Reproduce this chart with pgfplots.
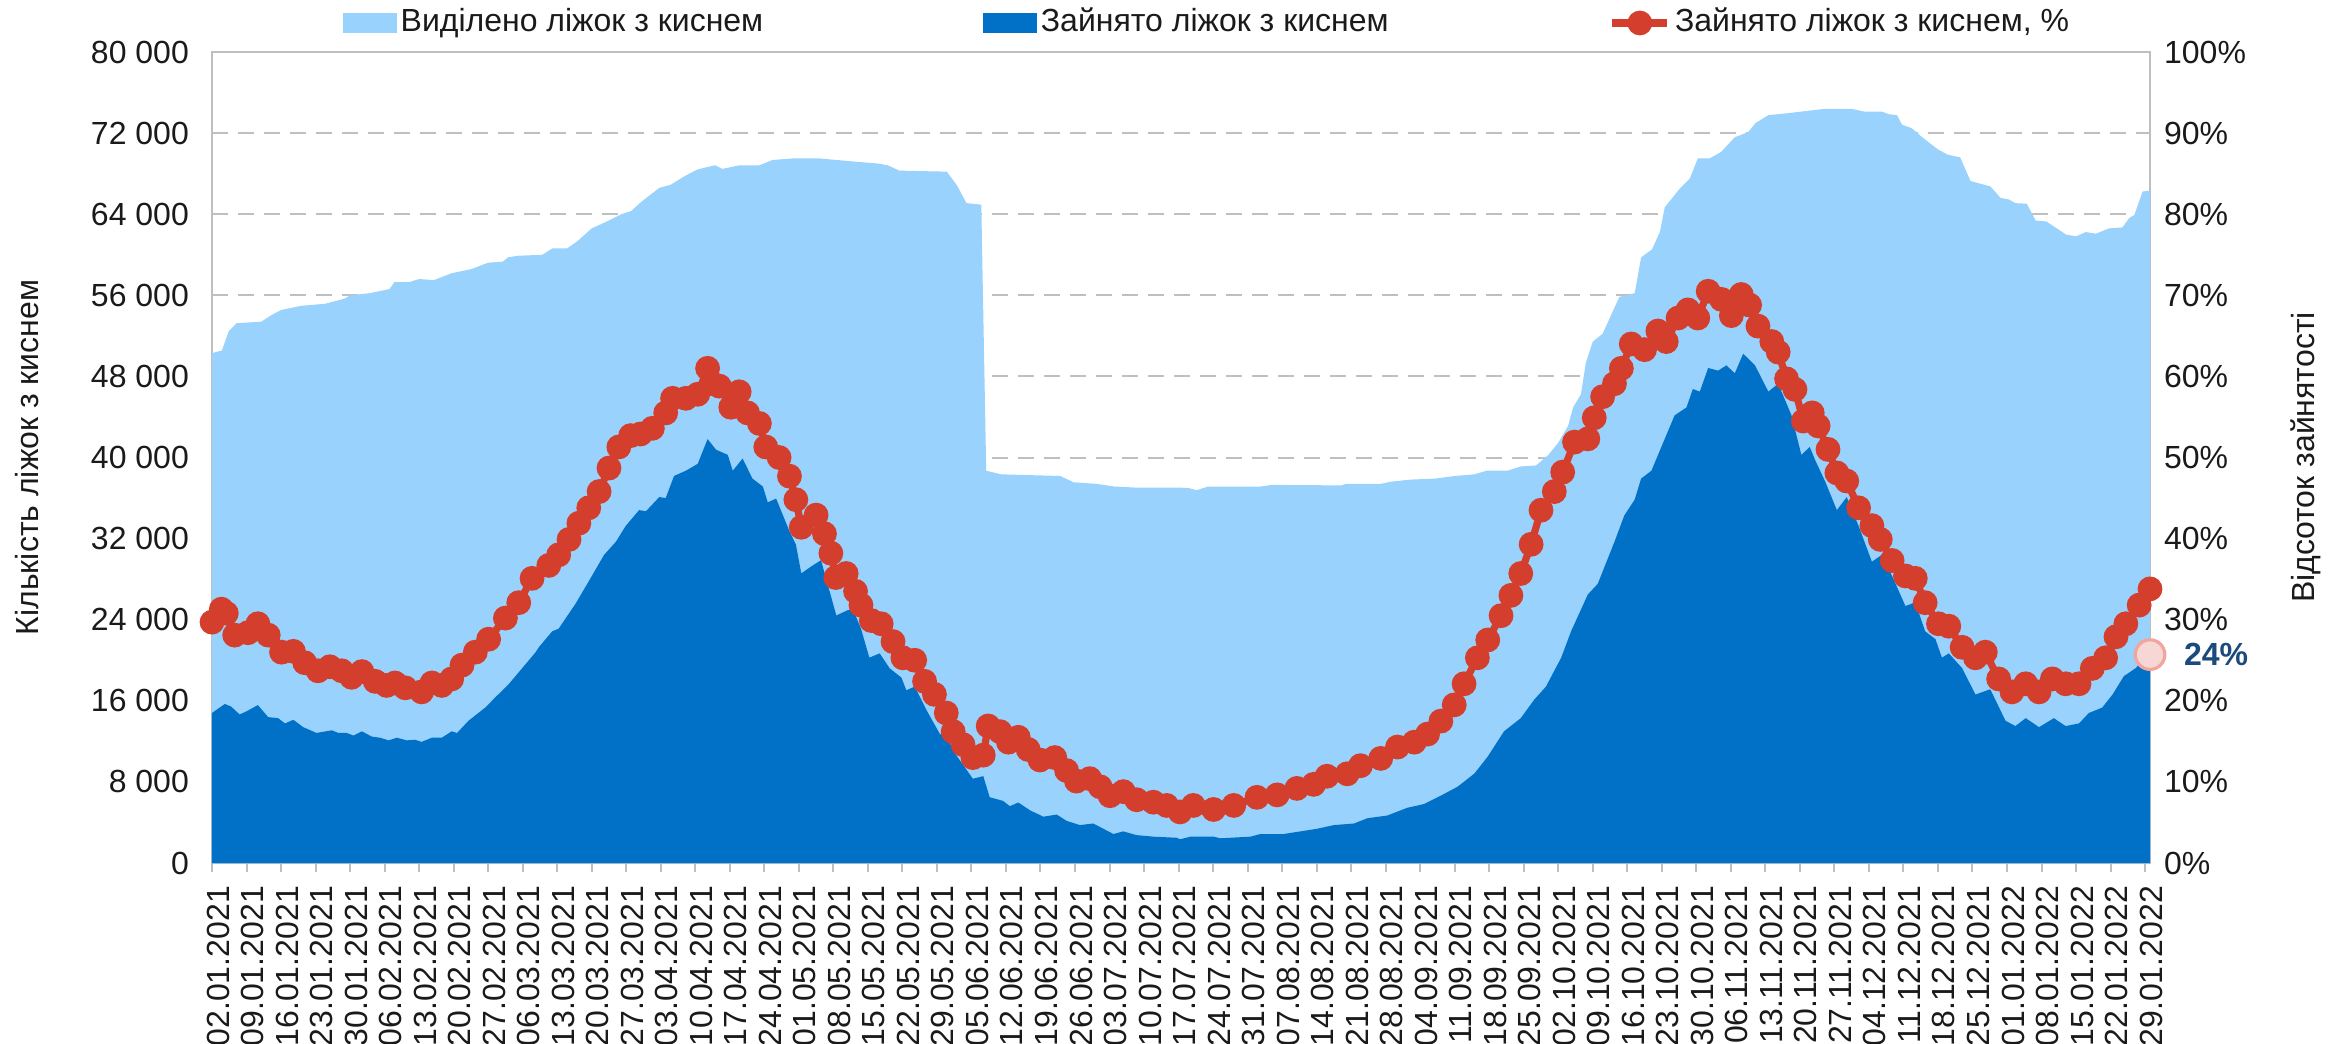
\documentclass[border=0pt]{standalone}
\usepackage{fontspec}
\setmainfont{Liberation Sans}
\usepackage{pgfplots}
\pgfplotsset{compat=1.18}
\usepackage{pgfplotstable}

\definecolor{lblue}{HTML}{99D2FD}
\definecolor{dblue}{HTML}{0071C6}
\definecolor{redl}{HTML}{D33F2C}
\definecolor{axgray}{HTML}{BFBFBF}
\definecolor{pinkfill}{HTML}{F6D7D5}
\definecolor{pinkedge}{HTML}{F2A59C}
\definecolor{navy}{HTML}{1B4A7C}
\definecolor{txt}{HTML}{1A1A1A}

% allocated beds (day index from 02.01.2021)
\pgfplotstableread{
d v
0 50300
2 50550
3.4 52470
5 53250
10 53400
12 54030
14 54550
18 54960
23 55170
27 55690
28 56000
32 56210
36 56620
37 57300
40 57300
42 57610
45 57500
48.6 58180
52.7 58600
56 59220
59 59320
60 59740
62 59900
67 60000
69 60620
72 60620
74 61300
77 62600
80.5 63380
83 64000
85 64310
87 65200
90.7 66600
93 66900
96 67800
98.5 68420
102 68830
103.5 68470
107 68830
111 68830
113.7 69350
118 69510
123 69510
130 69200
135 69000
137 68830
139.4 68300
149 68200
151 66900
153 65100
156 64940
157 38700
160 38340
172 38180
174.7 37560
179.4 37400
183 37140
187 37040
196 37040
198 36990
199.7 36780
202 37140
212.6 37140
215 37300
229 37250
230 37400
237 37400
239 37610
243 37820
248 37920
252 38180
256 38340
258.5 38700
262.7 38700
265.4 39120
268.5 39220
271 40260
273 41460
275 43120
276 44940
277.6 46240
278.6 49350
280 51430
282 52210
285.4 55850
288.5 56210
289.8 59740
292 60520
293.6 62240
294.6 64680
297.6 66500
299.7 67540
301.3 69510
303.7 69510
306 70130
308.8 71590
311.5 72100
313 72990
315.6 73770
319.6 73970
325 74280
327 74390
332.5 74390
335 74130
338.6 74130
340 73870
341.7 73770
342.7 72840
344.7 72480
346.8 71590
350 70390
352 69870
354.5 69610
356.6 67270
360.6 66750
362.7 65610
364.4 65450
365.7 65090
368 65040
369.8 63380
372 63280
376 61980
378 61820
380 62240
382 62080
384.7 62600
387.4 62700
388.8 63640
389.8 63900
391.5 66240
393 66340
}\alloc

% occupied beds
\pgfplotstableread{
d v
0 14800
2.6 15690
3.9 15430
5.6 14650
7 14960
9.3 15580
11.4 14390
13.4 14290
14.8 13770
16.5 14130
18.5 13400
21.2 12830
24.3 13090
25.6 12830
27.3 12830
28.7 12570
30.4 12990
32.4 12470
34.1 12360
35.8 12100
37.5 12360
39.5 12100
41.2 12160
42.5 11950
44.6 12360
46.6 12360
48.6 12990
49.7 12830
52 14030
55.4 15330
57.5 16360
60.2 17660
62.9 19220
65.6 20780
66.3 21300
69 22860
70.3 23120
73.7 25560
76.4 27790
79.5 30390
81.9 31690
83.9 33250
86.6 34810
88 34700
90.7 36100
92 36000
93.7 38180
96.1 38700
98.5 39380
100.5 41820
102.2 40780
104.6 40260
105.6 38700
107.6 39900
109.6 37920
111.7 37140
112.7 35580
114.4 35950
117.1 32730
118.4 31430
119.5 28570
121.8 29350
123.5 29870
126.6 24420
128.9 24940
130 25000
131.6 23120
133.3 20260
135.4 20680
137.4 19220
139.8 18290
140.8 17040
142.5 17400
144.9 15070
147.6 12730
148.9 12470
150.9 10650
154.3 8310
156.4 8570
157.7 6490
160.4 6130
161.8 5610
163.5 5970
165.9 5190
168.6 4570
171.3 4780
173.3 4160
176 3740
178.7 3900
182.8 2860
184.8 3120
187.5 2750
190.9 2600
195.7 2490
196.3 2340
198.4 2600
203.1 2600
204.5 2440
210.6 2600
212.6 2860
217.3 2860
224.1 3380
227.5 3740
231.6 3900
234.3 4420
238.3 4680
242.4 5450
245.8 5820
249.2 6650
252.6 7530
256 8830
258.7 10500
262 12990
265.4 14290
268.1 16100
270.5 17400
273.6 20260
275.6 22860
279 26490
281 27530
284.4 31690
286.4 34290
288.5 35850
289.8 37920
291.9 38700
293.9 41040
296.6 44160
299 44940
300.3 46760
301.7 46500
303.4 48830
305.4 48570
307.1 49090
308.8 48310
310.5 50240
312.9 49090
315.6 46500
317.6 47280
320.3 44160
322.3 40260
324 41040
325.1 39740
327.1 37660
329.5 34810
331.5 36100
333.9 33250
336.6 29720
338.6 30390
340.7 28310
343.4 25350
345.4 25710
347.4 22860
349.5 22080
350.8 20260
352.2 20680
354.9 19220
357.6 16620
360.6 17140
363.7 14030
365.7 13510
367.8 14290
370.5 13400
373.5 14290
375.9 13510
378.6 13770
380.6 14800
383.3 15330
385.4 16620
387.7 18440
390.1 19220
391.5 20000
393 20780
}\occup

% occupancy, %
\pgfplotstableread{
d p
0 29.7
1.9 31.3
2.9 30.8
4.6 28.1
7.3 28.4
9.3 29.5
11.4 28.1
14.1 26.0
16.5 26.1
18.8 24.7
21.5 23.7
23.9 24.2
26.3 23.7
28.3 22.9
30.4 23.6
33.1 22.4
35.4 21.9
37.1 22.2
39.2 21.6
42.5 21.1
44.6 22.2
46.6 21.9
48.6 22.7
50.7 24.4
53.4 26.0
56.1 27.6
59.5 30.2
62.2 32.1
64.9 35.1
68.3 36.7
70.3 38.0
72.4 39.9
74.4 41.9
76.4 43.8
78.5 45.8
80.5 48.7
82.5 51.3
84.9 52.7
86.9 52.9
89.3 53.6
92 55.5
93.4 57.3
96.1 57.3
98.5 57.8
100.5 61.0
101.5 59.1
102.9 58.8
105.2 56.2
106.9 58.1
108.6 55.5
111 54.2
112.3 51.3
115 50.0
117.1 47.7
118.4 44.8
119.5 41.4
122.5 42.9
124.2 40.6
125.5 38.2
126.5 35.2
128.6 35.7
130.5 33.5
131.6 31.8
133.7 29.9
135.7 29.5
138.1 27.3
140.1 25.3
142.5 25.0
144.5 22.4
146.5 20.8
148.9 18.5
150.3 16.2
152.3 14.6
154.3 13.0
156.4 13.3
157.4 16.9
159.8 16.2
161.5 14.9
163.5 15.5
165.5 14.0
167.9 12.7
170.9 13.0
173.3 11.4
175.3 10.1
178 10.4
180.1 9.4
182.1 8.3
184.8 8.8
187.5 7.8
190.9 7.5
193.6 7.1
196.3 6.3
199 7.1
203.1 6.6
207.2 7.1
211.9 8.1
216 8.4
220 9.2
223.4 9.7
226.1 10.7
230.2 11.0
232.9 12.0
237 12.9
240.4 14.3
243.8 14.9
246.5 15.9
249.2 17.5
251.9 19.5
253.9 22.1
256.6 25.3
258.7 27.5
261.4 30.5
263.4 33.0
265.4 35.7
267.5 39.3
269.5 43.5
272.2 45.8
273.9 48.2
276.3 51.9
279 52.3
280.3 54.9
282 57.5
284.4 59.1
285.8 61.0
287.8 64.0
290.5 63.3
293.2 65.6
294.9 64.3
297.3 67.2
299.3 68.2
301.3 67.2
303.4 70.5
306.1 69.5
308.1 67.5
310.1 70.1
311.8 68.8
313.5 66.2
316.3 64.3
317.6 63.0
319.3 59.7
321 58.4
322.7 54.5
324.5 55.5
325.7 53.9
327.7 51.0
329.5 48.1
331.5 47.1
333.9 43.8
336.6 41.6
338.3 39.9
340.7 37.3
343.4 35.4
345.4 35.1
347.4 32.1
350.1 29.5
352.2 29.2
354.9 26.6
357.6 25.3
359.6 26.0
362.3 22.7
365 21.1
367.8 22.1
370.5 21.1
373.2 22.7
375.9 22.1
378.6 22.1
381.3 24.0
384 25.3
386.1 27.9
388.1 29.5
390.8 31.8
393 33.8
}\pct

\tikzset{myfont/.style={font=\fontsize{8}{9.6}\selectfont}}
\pgfplotsset{
  base/.style={
    scale only axis, width=484.5pt, height=202.75pt,
    xmin=0, xmax=393,
    tick label style={myfont, text=txt},
    label style={myfont, text=txt},
  },
  redlegend/.style={legend image code/.code={%
    \draw[mark repeat=2,mark phase=2,##1] plot coordinates {(0pt,0pt) (6.9pt,0pt) (13.8pt,0pt)};}},
  lbluelegend/.style={legend image code/.code={\fill[lblue] (0pt,-2.3pt) rectangle (13pt,2.3pt);}},
  dbluelegend/.style={legend image code/.code={\fill[dblue] (0pt,-2.3pt) rectangle (13pt,2.3pt);}},
}

\begin{document}
\begin{tikzpicture}
\begin{axis}[base,
  ymin=0, ymax=80000, scaled y ticks=false,
  axis line style={draw=axgray, line width=0.6pt},
  ytick={0,8000,...,80000},
  yticklabels={0,8 000,16 000,24 000,32 000,40 000,48 000,56 000,64 000,72 000,80 000},
  ymajorgrids, grid style={draw=axgray, dash pattern=on 4pt off 2.5pt, line width=0.5pt},
  ytick style={draw=none},
  xtick={0,7,...,392},
  xticklabels={02.01.2021,09.01.2021,16.01.2021,23.01.2021,30.01.2021,06.02.2021,13.02.2021,20.02.2021,27.02.2021,06.03.2021,13.03.2021,20.03.2021,27.03.2021,03.04.2021,10.04.2021,17.04.2021,24.04.2021,01.05.2021,08.05.2021,15.05.2021,22.05.2021,29.05.2021,05.06.2021,12.06.2021,19.06.2021,26.06.2021,03.07.2021,10.07.2021,17.07.2021,24.07.2021,31.07.2021,07.08.2021,14.08.2021,21.08.2021,28.08.2021,04.09.2021,11.09.2021,18.09.2021,25.09.2021,02.10.2021,09.10.2021,16.10.2021,23.10.2021,30.10.2021,06.11.2021,13.11.2021,20.11.2021,27.11.2021,04.12.2021,11.12.2021,18.12.2021,25.12.2021,01.01.2022,08.01.2022,15.01.2022,22.01.2022,29.01.2022},
  xtick pos=bottom, ytick pos=left,
  xtick style={draw=axgray, line width=0.5pt},
  major tick length=4.5pt, tick align=center,
  xticklabel style={rotate=90, anchor=east, yshift=-1.5pt},
  yticklabel style={anchor=east},
  ylabel={Кількість ліжок з киснем},
  every axis y label/.style={at={(axis description cs:-0.0955,0.5)}, rotate=90, anchor=center, myfont, text=txt},
]
\addplot[fill=lblue, draw=none] table[x=d,y=v]{\alloc} \closedcycle;
\addplot[fill=dblue, draw=none] table[x=d,y=v]{\occup} \closedcycle;
\end{axis}

\begin{axis}[base,
  ymin=0, ymax=100,
  axis x line=none, axis y line*=right,
  y axis line style={draw=none},
  ytick={0,10,...,100},
  yticklabels={0\%,10\%,20\%,30\%,40\%,50\%,60\%,70\%,80\%,90\%,100\%},
  ytick style={draw=none},
  yticklabel style={anchor=west},
  clip=false,
  ylabel={Відсоток зайнятості},
  every axis y label/.style={at={(axis description cs:1.0805,0.5)}, rotate=90, anchor=center, myfont, text=txt},
  legend columns=3,
  legend style={at={(0.515,1)}, anchor=center, yshift=7.25pt, draw=none, fill=none,
    myfont, text=txt, inner sep=0pt,
    /tikz/every odd column/.append style={column sep=-1pt},
    /tikz/every even column/.append style={column sep=53pt}},
]
\addlegendimage{lbluelegend}
\addlegendentry{Виділено ліжок з киснем}
\addlegendimage{dbluelegend}
\addlegendentry{Зайнято ліжок з киснем}
\addplot[redl, line width=1.8pt, mark=*, mark size=2.9pt, mark options={fill=redl, draw=redl, line width=0.4pt}, redlegend]
  table[x=d,y=p]{\pct};
\addlegendentry{Зайнято ліжок з киснем, \%}
\addplot[only marks, mark=*, mark size=3.7pt, mark options={fill=pinkfill, draw=pinkedge, line width=0.8pt}, forget plot]
  coordinates {(393,25.7)};
\node[anchor=west, font=\fontsize{8}{9.6}\selectfont\bfseries, text=navy, xshift=5pt] at (axis cs:393,25.7) {24\%};
\end{axis}
\pgfresetboundingbox
\path (-53pt,-45pt) rectangle (532.25pt,215.75pt);
\end{tikzpicture}
\end{document}
